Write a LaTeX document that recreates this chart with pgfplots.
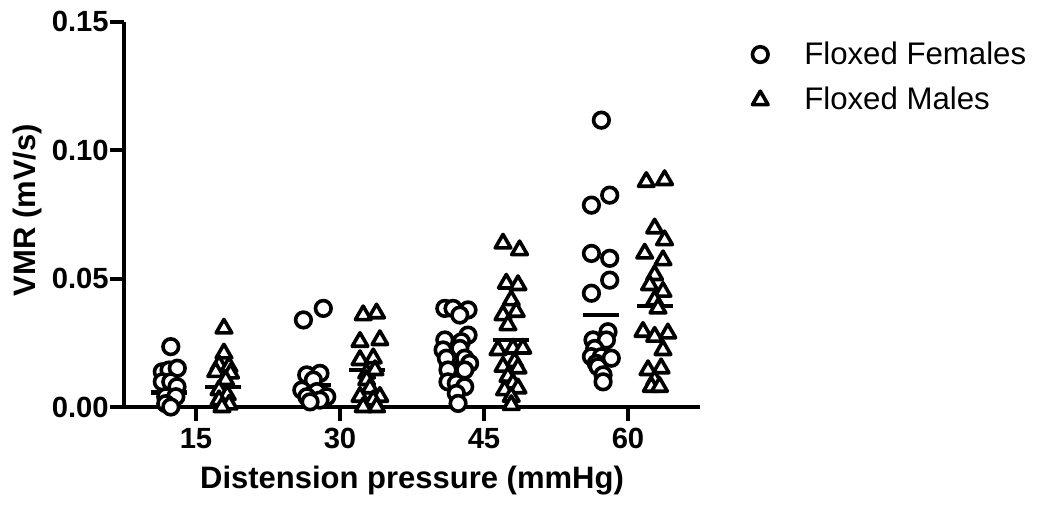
\documentclass[border=0pt]{standalone}
\usepackage{fontspec}
\setmainfont{Liberation Sans}
\usepackage{pgfplots}
\pgfplotsset{compat=1.18}

\begin{document}
\begin{tikzpicture}
\begin{axis}[
  scale only axis,
  width=288pt, height=192.6pt,
  xmin=0.5, xmax=4.5, ymin=0, ymax=0.15,
  axis x line=bottom, axis y line=left,
  axis line style={line width=2pt, -},
  xtick={1,2,3,4}, xticklabels={15,30,45,60},
  ytick={0,0.05,0.10,0.15},
  /pgf/number format/assume math mode=true,
  yticklabel style={/pgf/number format/.cd, fixed, fixed zerofill, precision=2,
    /tikz/.cd, inner xsep=0.5pt},
  tick align=outside,
  major tick length=7pt,
  tick style={line width=2pt, black},
  ticklabel style={font=\fontsize{14.6}{16}\selectfont\bfseries},
  xlabel={Distension pressure (mmHg)},
  ylabel={VMR (mV/s)},
  label style={font=\fontsize{15.5}{18}\selectfont\bfseries},
  xlabel style={at={(axis description cs:0.5,-0.192)}, anchor=center},
  ylabel style={at={(axis description cs:-0.1667,0.511)}, anchor=center},
  clip=false,
  legend style={draw=none, fill=none, at={(axis description cs:1.08,0.97)}, anchor=north west,
    font=\fontsize{15.6}{18}\selectfont, row sep=6pt},
  legend cell align=left,
  legend image code/.code={\draw[#1] plot coordinates {(0pt,0pt)};
    \path[draw=none, fill=none] (0pt,0pt) -- (20pt,0pt);},
  fem/.style={only marks, mark=*, mark size=3.9pt,
    mark options={draw=black, fill=white, line width=1.8pt}},
  mal/.style={only marks, mark=triangle*, mark size=4.5pt,
    mark options={draw=black, fill=white, line width=1.8pt, line join=round}},
  mean/.style={black, line width=2.25pt, forget plot},
  unbounded coords=jump,
]
% Floxed females
\addplot[fem] table {
x y
0.825 0.0235
0.766 0.0137
0.813 0.0144
0.870 0.0151
0.766 0.0098
0.825 0.0098
0.868 0.0079
0.790 0.0040
0.860 0.0040
0.790 0.0013
0.825 0.0000
1.746 0.0339
1.884 0.0384
1.769 0.0125
1.861 0.0131
1.815 0.0105
1.735 0.0066
1.839 0.0060
1.908 0.0040
1.770 0.0040
1.861 0.0027
1.792 0.0020
2.728 0.0384
2.785 0.0384
2.889 0.0378
2.832 0.0358
2.889 0.0280
2.728 0.0261
2.843 0.0254
2.716 0.0222
2.832 0.0228
2.739 0.0190
2.866 0.0190
2.900 0.0170
2.750 0.0144
2.866 0.0144
2.750 0.0098
2.808 0.0092
2.866 0.0079
2.808 0.0053
2.820 0.0014
3.815 0.1117
3.873 0.0825
3.746 0.0786
3.746 0.0598
3.873 0.0579
3.873 0.0494
3.746 0.0443
3.861 0.0293
3.757 0.0261
3.850 0.0261
3.769 0.0228
3.746 0.0196
3.815 0.0196
3.884 0.0190
3.780 0.0170
3.792 0.0157
3.827 0.0125
3.827 0.0098
};
\addlegendentry{Floxed Females}
% Floxed males
\addplot[mal] table {
x y
1.194 0.0306
1.194 0.0209
1.160 0.0163
1.229 0.0157
1.137 0.0137
1.240 0.0131
1.206 0.0105
1.160 0.0066
1.217 0.0047
1.160 0.0027
1.230 0.0010
1.180 0.0000
2.161 0.0358
2.254 0.0365
2.139 0.0254
2.277 0.0261
2.139 0.0183
2.231 0.0190
2.185 0.0131
2.243 0.0144
2.185 0.0105
2.208 0.0073
2.139 0.0040
2.277 0.0040
2.231 0.0027
2.161 0.0000
2.254 0.0000
3.132 0.0637
3.247 0.0611
3.155 0.0481
3.236 0.0475
3.189 0.0416
3.132 0.0358
3.224 0.0371
3.166 0.0319
3.097 0.0222
3.201 0.0228
3.270 0.0228
3.213 0.0176
3.132 0.0157
3.236 0.0151
3.166 0.0118
3.201 0.0092
3.143 0.0066
3.236 0.0073
3.189 0.0040
3.189 0.0008
4.127 0.0877
4.254 0.0884
4.185 0.0696
4.254 0.0650
4.116 0.0598
4.243 0.0572
4.185 0.0514
4.150 0.0475
4.243 0.0449
4.185 0.0416
4.208 0.0384
4.104 0.0293
4.185 0.0274
4.277 0.0287
4.243 0.0222
4.139 0.0144
4.230 0.0151
4.185 0.0105
4.162 0.0079
4.219 0.0079
};
\addlegendentry{Floxed Males}
% group means
\addplot[mean] coordinates {
(0.690,0.0056) (0.940,0.0056) (0.940,nan)
(1.065,0.0078) (1.315,0.0078) (1.315,nan)
(1.690,0.0086) (1.940,0.0086) (1.940,nan)
(2.065,0.0144) (2.315,0.0144) (2.315,nan)
(2.690,0.0170) (2.940,0.0170) (2.940,nan)
(3.065,0.0260) (3.315,0.0260) (3.315,nan)
(3.690,0.0358) (3.940,0.0358) (3.940,nan)
(4.065,0.0393) (4.315,0.0393)
};
\end{axis}
\path (-62pt,-53.5pt) rectangle (456.5pt,203.5pt);
\end{tikzpicture}
\end{document}
